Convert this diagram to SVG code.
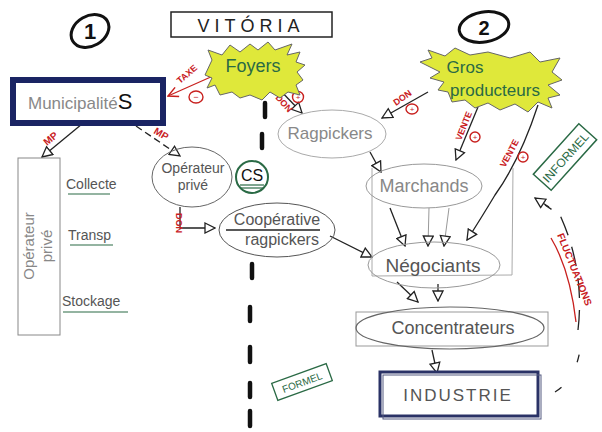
<svg xmlns="http://www.w3.org/2000/svg" width="602" height="432" viewBox="0 0 602 432">
<defs>
<style>
text{font-family:"Liberation Sans",Arial,sans-serif}
.pen{fill:#555}
.pencil{fill:#888}
.red{fill:#c8201e;font-weight:bold}
.grn{fill:#2a6a45}
.ln{stroke:#222;stroke-width:1.3;fill:none}
.rl{stroke:#c8201e;stroke-width:1.3;fill:none}
.gl{stroke:#999;stroke-width:1;fill:none}
.cut{stroke:#111;stroke-width:4.5;stroke-linecap:round}
.sign{fill:none;stroke:#c8201e;stroke-width:1.4}
</style>
<marker id="tri" viewBox="0 0 12 12" refX="11" refY="6" markerWidth="12" markerHeight="12" markerUnits="userSpaceOnUse" orient="auto">
<path d="M1,1 L11,6 L1,11 Z" fill="#fff" stroke="#222" stroke-width="1.3"/>
</marker>
<marker id="trir" viewBox="0 0 12 12" refX="11" refY="6" markerWidth="12" markerHeight="12" markerUnits="userSpaceOnUse" orient="auto">
<path d="M1,1 L11,6 L1,11" fill="none" stroke="#c8201e" stroke-width="1.5"/>
</marker>
</defs>
<rect width="602" height="432" fill="#fff"/>

<g id="label-1">
<ellipse cx="90" cy="31" rx="20" ry="15" transform="rotate(-30 90 31)" fill="none" stroke="#111" stroke-width="3"/>
<text x="90" y="39" text-anchor="middle" font-size="22" font-weight="bold" fill="#111">1</text>
</g>
<g id="title">
<rect x="171" y="12" width="161" height="25" fill="none" stroke="#222" stroke-width="1.5"/>
<text x="251" y="32" text-anchor="middle" font-size="18" letter-spacing="5" fill="#222">VITÓRIA</text>
</g>
<g id="label-2">
<ellipse cx="484" cy="27" rx="25" ry="15" transform="rotate(-10 484 27)" fill="none" stroke="#111" stroke-width="3"/>
<text x="484" y="35" text-anchor="middle" font-size="20" font-weight="bold" fill="#111">2</text>
</g>

<g id="divider">
<line class="cut" x1="265" y1="103" x2="265" y2="117"/>
<line class="cut" x1="262" y1="134" x2="262" y2="148"/>
<line class="cut" x1="252" y1="264" x2="252" y2="278"/>
<line class="cut" x1="250" y1="307" x2="250" y2="321"/>
<line class="cut" x1="250" y1="347" x2="250" y2="362"/>
<line class="cut" x1="250" y1="383" x2="250" y2="397"/>
<line class="cut" x1="250" y1="411" x2="250" y2="426"/>
</g>

<g id="connectors">
<line class="rl" x1="213" y1="76" x2="168" y2="96" marker-end="url(#trir)"/>
<text class="red" font-size="9" transform="translate(180,84) rotate(-40)">TAXE</text>
<ellipse class="sign" cx="196" cy="97" rx="7" ry="6"/>
<text x="196" y="100" text-anchor="middle" font-size="9" fill="#c8201e">−</text>

<line class="ln" x1="82" y1="124" x2="42" y2="157" marker-end="url(#tri)"/>
<text class="red" font-size="10" transform="translate(47,146) rotate(-40)">MP</text>
<line class="ln" x1="136" y1="126" x2="180" y2="156" stroke-dasharray="7 4" stroke-width="2" marker-end="url(#tri)"/>
<text class="red" font-size="10" transform="translate(153,133) rotate(30)">MP</text>

<path class="ln" d="M180,207 V228 H215" marker-end="url(#tri)"/>
<text class="red" font-size="9" transform="translate(176,213) rotate(90)">DON</text>

<line class="ln" x1="330" y1="236" x2="372" y2="257" marker-end="url(#tri)"/>

<line class="ln" x1="277" y1="87" x2="302" y2="113" marker-end="url(#tri)"/>
<text class="red" font-size="9" transform="translate(275,98) rotate(48)">DON</text>
<ellipse class="sign" cx="298" cy="97" rx="5.5" ry="5.5"/>
<text x="298" y="100" text-anchor="middle" font-size="8" fill="#c8201e">+</text>

<line class="ln" x1="428" y1="92" x2="382" y2="118" marker-end="url(#tri)"/>
<text class="red" font-size="9" transform="translate(396,106) rotate(-35)">DON</text>
<ellipse class="sign" cx="412" cy="109" rx="6" ry="5"/>
<text x="412" y="112" text-anchor="middle" font-size="8" fill="#c8201e">+</text>

<line class="ln" x1="478" y1="107" x2="456" y2="160" marker-end="url(#tri)"/>
<text class="red" font-size="9" transform="translate(461,141) rotate(-68)">VENTE</text>
<ellipse class="sign" cx="475" cy="137" rx="5" ry="5"/>
<text x="475" y="140" text-anchor="middle" font-size="8" fill="#c8201e">+</text>

<path class="ln" d="M538,105 Q520,160 495,195 Q480,220 467,240" marker-end="url(#tri)"/>
<text class="red" font-size="9" transform="translate(505,168) rotate(-62)">VENTE</text>
<ellipse class="sign" cx="523" cy="157" rx="5" ry="5"/>
<text x="523" y="160" text-anchor="middle" font-size="8" fill="#c8201e">+</text>

<line class="ln" x1="370" y1="152" x2="381" y2="172" marker-end="url(#tri)"/>

<line class="ln" x1="390" y1="208" x2="405" y2="246" marker-end="url(#tri)"/>
<line class="gl" x1="429" y1="208" x2="428" y2="246" marker-end="url(#tri)"/>
<line class="gl" x1="449" y1="208" x2="444" y2="246" marker-end="url(#tri)"/>

<line class="ln" x1="397" y1="282" x2="418" y2="302" marker-end="url(#tri)"/>
<line class="ln" x1="438" y1="284" x2="438" y2="301" marker-end="url(#tri)"/>
<line class="ln" x1="432" y1="350" x2="437" y2="373" marker-end="url(#tri)"/>

<path d="M555,392 Q575,380 580,350" fill="none" stroke="#222" stroke-width="1.3" stroke-dasharray="8 30"/>
<path d="M578,330 Q585,270 560,215 L545,205" fill="none" stroke="#222" stroke-width="1.3" stroke-dasharray="20 12"/>
<path d="M549,207 L535,198" class="ln" marker-end="url(#tri)"/>
<text class="red" font-size="10" transform="translate(557,235) rotate(68)">FLUCTUATIONS</text>
<path class="rl" d="M551,238 Q570,270 576,322"/>
</g>

<g id="foyers">
<polygon points="205,75 212,60 208,50 222,55 230,45 240,52 250,44 258,50 268,42 275,50 292,44 287,55 300,52 296,62 305,65 297,72 303,80 296,85 300,95 288,92 280,98 270,92 262,100 250,95 240,98 232,92 220,95 215,85 207,88 212,78" fill="#dfe83a" stroke="#666" stroke-width="1"/>
<text x="253" y="72" text-anchor="middle" font-size="18" class="grn">Foyers</text>
</g>

<g id="gros-producteurs">
<polygon points="420,62 432,58 428,50 445,56 455,48 470,55 488,52 510,58 530,52 540,62 560,58 552,72 562,80 548,85 560,95 548,98 552,108 538,102 528,112 515,104 500,110 488,103 475,108 465,100 452,102 448,92 438,90 444,82 430,78 440,72" fill="#dfe83a" stroke="#666" stroke-width="1"/>
<text x="465" y="73" text-anchor="middle" font-size="17" class="grn">Gros</text>
<text x="495" y="96" text-anchor="middle" font-size="17" class="grn">producteurs</text>
</g>

<g id="municipalites">
<rect x="13" y="80" width="150" height="43" fill="#fff" stroke="#1a2463" stroke-width="6"/>
<text x="28" y="109" font-size="17" class="pencil">Municipalité<tspan font-size="22" fill="#111">S</tspan></text>
</g>

<g id="operateur-prive-left">
<rect x="18" y="158" width="42" height="177" fill="none" stroke="#888" stroke-width="1"/>
<text transform="translate(34,246) rotate(-90)" text-anchor="middle" font-size="15" class="pencil">Opérateur</text>
<text transform="translate(52,246) rotate(-90)" text-anchor="middle" font-size="15" class="pencil">privé</text>
<text x="66" y="189" font-size="14" class="pen">Collecte</text>
<line x1="68" y1="194" x2="110" y2="194" stroke="#2a6a45" stroke-width="1.2"/>
<text x="68" y="240" font-size="14" class="pen">Transp</text>
<line x1="70" y1="245" x2="113" y2="245" stroke="#2a6a45" stroke-width="1.2"/>
<text x="62" y="306" font-size="14" class="pen">Stockage</text>
<line x1="63" y1="312" x2="128" y2="312" stroke="#2a6a45" stroke-width="1.2"/>
</g>

<g id="operateur-prive">
<ellipse cx="192" cy="177" rx="40" ry="30" fill="none" stroke="#666" stroke-width="1"/>
<text x="193" y="173" text-anchor="middle" font-size="14" class="pen">Opérateur</text>
<text x="193" y="190" text-anchor="middle" font-size="14" class="pen">privé</text>
</g>

<g id="cs">
<circle cx="252" cy="177" r="16" fill="none" stroke="#2a6a45" stroke-width="2"/>
<text x="252" y="181" text-anchor="middle" font-size="16" fill="#111">CS</text>
<line x1="240" y1="185" x2="264" y2="185" stroke="#2a6a45" stroke-width="1.2"/>
<line x1="240" y1="188" x2="264" y2="188" stroke="#2a6a45" stroke-width="1.2"/>
</g>

<g id="cooperative">
<ellipse cx="277" cy="230" rx="58" ry="27" fill="none" stroke="#555" stroke-width="1"/>
<text x="277" y="225" text-anchor="middle" font-size="16" class="pen">Coopérative</text>
<line x1="226" y1="230" x2="320" y2="230" stroke="#222" stroke-width="1.5"/>
<text x="282" y="245" text-anchor="middle" font-size="16" class="pen">ragpickers</text>
</g>

<g id="formel">
<g transform="translate(302,382) rotate(-20)">
<rect x="-29" y="-9" width="58" height="18" fill="none" stroke="#2a6a45" stroke-width="1.3"/>
<text x="0" y="4" text-anchor="middle" font-size="10" class="grn">FORMEL</text>
</g>
</g>

<g id="ragpickers">
<ellipse cx="332" cy="134" rx="54" ry="24" fill="none" stroke="#aaa" stroke-width="1"/>
<text x="330" y="139" text-anchor="middle" font-size="17" class="pencil">Ragpickers</text>
</g>

<g id="bloc">
<path d="M372,168 L372,276 L512,275 L513,168" fill="none" stroke="#aaa" stroke-width="1"/>
</g>

<g id="marchands">
<ellipse cx="424" cy="186" rx="58" ry="22" fill="none" stroke="#999" stroke-width="1"/>
<text x="424" y="192" text-anchor="middle" font-size="18" class="pencil">Marchands</text>
</g>

<g id="negociants">
<ellipse cx="434" cy="265" rx="66" ry="23" fill="none" stroke="#999" stroke-width="1"/>
<text x="433" y="272" text-anchor="middle" font-size="19" class="pen">Négociants</text>
</g>

<g id="concentrateurs">
<rect x="356" y="312" width="192" height="34" fill="none" stroke="#999" stroke-width="1"/>
<ellipse cx="450" cy="328" rx="94" ry="21" fill="none" stroke="#666" stroke-width="1.2"/>
<text x="453" y="334" text-anchor="middle" font-size="18" class="pen">Concentrateurs</text>
</g>

<g id="industrie">
<rect x="380" y="372" width="158" height="44" fill="#fff" stroke="#2a3266" stroke-width="3"/>
<rect x="383" y="375" width="158" height="44" fill="none" stroke="#555a80" stroke-width="1"/>
<text x="458" y="401" text-anchor="middle" font-size="17" letter-spacing="2" class="pen">INDUSTRIE</text>
</g>

<g id="informel">
<g transform="translate(565,157) rotate(-48)">
<rect x="-34" y="-12" width="68" height="24" fill="none" stroke="#2a6a45" stroke-width="1.5"/>
<text x="0" y="5" text-anchor="middle" font-size="12" class="grn">INFORMEL</text>
</g>
</g>
</svg>
